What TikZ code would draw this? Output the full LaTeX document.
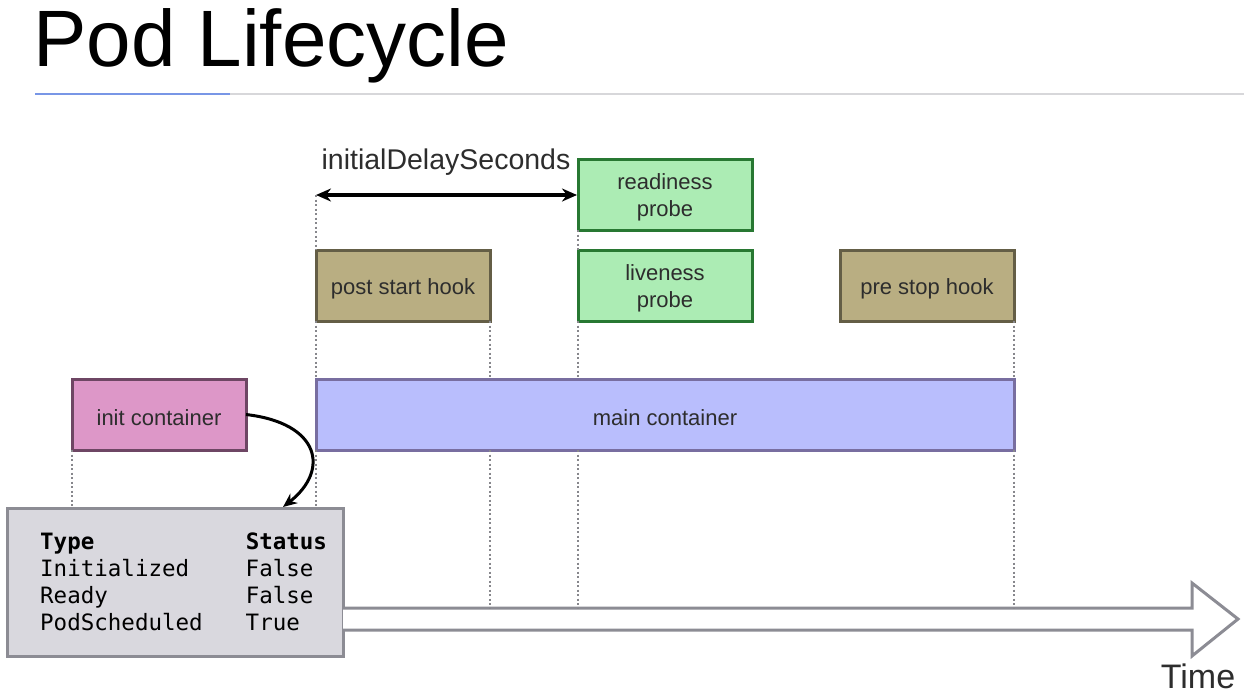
\documentclass[tikz,border=0pt]{standalone}
\usepackage{fontspec}
\setmainfont{Liberation Sans}
\setsansfont{Liberation Sans}
\setmonofont{DejaVu Sans Mono}
\usetikzlibrary{arrows.meta}
\definecolor{probefill}{RGB}{172,236,180}
\definecolor{probeedge}{RGB}{40,120,50}
\definecolor{hookfill}{RGB}{185,174,130}
\definecolor{hookedge}{RGB}{100,94,70}
\definecolor{mainfill}{RGB}{185,190,253}
\definecolor{mainedge}{RGB}{120,110,160}
\definecolor{initfill}{RGB}{221,151,200}
\definecolor{initedge}{RGB}{110,70,100}
\definecolor{statfill}{RGB}{217,216,222}
\definecolor{statedge}{RGB}{140,140,148}
\definecolor{txt}{RGB}{45,45,45}
\definecolor{rule}{RGB}{120,150,230}
\definecolor{rulegray}{RGB}{215,215,218}
\definecolor{guide}{RGB}{135,135,140}
\tikzset{
  box/.style={draw, line width=3pt, minimum width=174pt, minimum height=71pt,
    inner sep=0pt, outer sep=0pt},
  boxtext/.style={label={[align=center, text=txt, yshift=-3pt,
    font=\fontsize{22}{27}\selectfont]center:#1}},
  probebox/.style={box, fill=probefill, draw=probeedge},
  hookbox/.style={box, fill=hookfill, draw=hookedge},
  guideline/.style={draw=guide, line width=2pt, dash pattern=on 2pt off 2.5pt},
}
\begin{document}
\begin{tikzpicture}[x=1pt, y=-1pt]
\useasboundingbox (0,0) rectangle (1244,694);
\fill[white] (0,0) rectangle (1244,694);

% title and rule
\node[anchor=base west, inner sep=0pt, font=\fontsize{80}{90}\selectfont] (title) at (33,66) {Pod Lifecycle};
\draw[rulegray, line width=2pt] (230,94) -- (1244,94);
\draw[rule, line width=2pt] (35,94) -- (230,94);

% boxes
\node[probebox, anchor=north west, boxtext={readiness\\probe}] (ready) at (578,159) {};
\node[probebox, anchor=north west, boxtext={liveness\\probe}] (live) at (578,250) {};
\node[hookbox, anchor=north west, boxtext={post start hook}] (post) at (316,250) {};
\node[hookbox, anchor=north west, boxtext={pre stop hook}] (pre) at (840,250) {};
\node[box, anchor=north west, minimum width=698pt, fill=mainfill, draw=mainedge,
      boxtext={main container}] (main) at (316,379) {};
\node[box, anchor=north west, fill=initfill, draw=initedge,
      boxtext={init container}] (init) at (72,379) {};

% status table
\node[draw=statedge, fill=statfill, line width=3pt, anchor=north west, outer sep=0pt,
      minimum width=336pt, minimum height=148pt, inner sep=0pt] (stat) at (7,508) {};
\node[anchor=north west, inner sep=0pt, font=\ttfamily\fontsize{22.5}{27}\selectfont, text=black] (tab) at (40,530)
  {\begin{tabular}{@{}l@{\hspace{43pt}}l@{}}
   \textbf{Type} & \textbf{Status}\\
   Initialized & False\\
   Ready & False\\
   PodScheduled & True
   \end{tabular}};

% time arrow
\coordinate (shafttop) at (343,608);
\coordinate (shaftbot) at (343,630);
\coordinate (tip) at (1238,619);
\draw[statedge, line width=3pt, line join=miter, fill=white]
  (shafttop) -- (1192,608) -- (1192,583) -- (tip) -- (1192,656) -- (1192,630) -- (shaftbot);
\node[font=\fontsize{34}{40}\selectfont, text=txt, anchor=base] (time) at (1198,688) {Time};

% initial delay
\coordinate (d0) at (316,195);
\coordinate (d1) at (577,195);
\draw[{Stealth[length=15pt,width=13pt]}-{Stealth[length=15pt,width=13pt]}, line width=3.5pt] (d0) -- (d1);
\node[font=\fontsize{28.5}{34}\selectfont, text=txt] (delay) at (446,162) {initialDelaySeconds};

% guide lines
\draw[guideline] (d0) -- (post.north west);
\draw[guideline] (post.south west) -- (main.north west);
\draw[guideline] (main.south west) -- (main.south west |- stat.north);
\draw[guideline] (post.south east) -- (post.south east |- main.north);
\draw[guideline] (post.south east |- main.south) -- (post.south east |- shafttop);
\draw[guideline] (ready.south west) -- (live.north west);
\draw[guideline] (live.south west) -- (live.south west |- main.north);
\draw[guideline] (live.south west |- main.south) -- (live.south west |- shafttop);
\draw[guideline] (pre.south east) -- (main.north east);
\draw[guideline] (main.south east) -- (main.south east |- shafttop);
\draw[guideline] (init.south west) -- (init.south west |- stat.north);

% init container hands over to the status
\draw[-{Stealth[length=14pt,width=12pt]}, line width=3pt]
  (init.east) .. controls (320,423) and (330,470) .. (283,507);
\end{tikzpicture}
\end{document}
